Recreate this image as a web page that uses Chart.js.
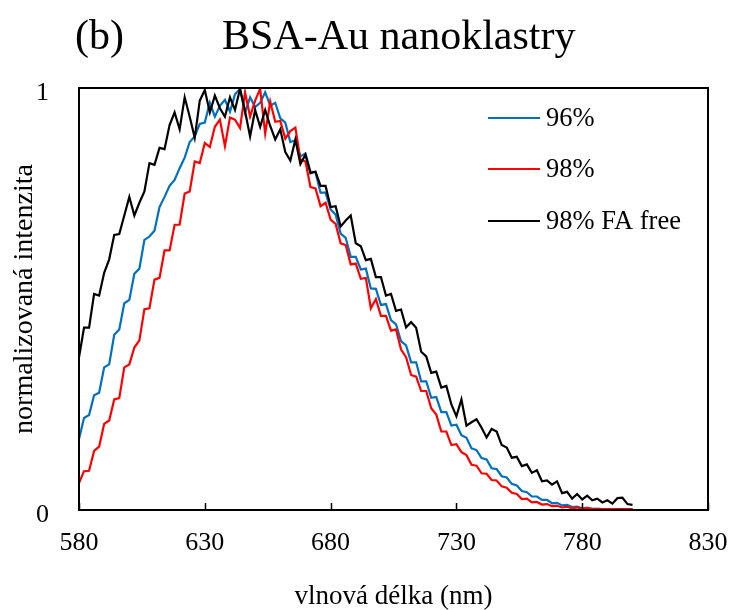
<!DOCTYPE html>
<html>
<head>
<meta charset="utf-8">
<script src="https://cdn.jsdelivr.net/npm/chart.js@4/dist/chart.umd.min.js"></script>
<style>
html,body{margin:0;padding:0;background:#fff;}
canvas{display:block;}
</style>
</head>
<body>
<canvas id="c" width="733" height="610"></canvas>
<script>
const chartTitleLeft = "(b)";
const chartTitleMain = "BSA-Au nanoklastry";
const xAxisTitle = "vlnová délka (nm)";
const yAxisTitle = "normalizovaná intenzita";
const seriesLabels = ["96%", "98%", "98% FA free"];
const seriesColors = ["#0070C0", "#FF0000", "#000000"];
const xTickValues = [580, 630, 680, 730, 780, 830];
const yTickValues = [0, 1];

const wavelengths = [580,582,584,586,588,590,592,594,596,598,600,602,604,606,608,610,612,614,616,618,620,622,624,626,628,630,632,634,636,638,640,642,644,646,648,650,652,654,656,658,660,662,664,666,668,670,672,674,676,678,680,682,684,686,688,690,692,694,696,698,700,702,704,706,708,710,712,714,716,718,720,722,724,726,728,730,732,734,736,738,740,742,744,746,748,750,752,754,756,758,760,762,764,766,768,770,772,774,776,778,780,782,784,786,788,790,792,794,796,798,800];

const s96 = [.168,.218,.225,.272,.278,.338,.345,.415,.428,.49,.498,.56,.572,.64,.648,.662,.718,.742,.768,.782,.81,.835,.872,.885,.915,.918,.965,.932,.958,.972,.944,.985,.998,.942,.978,.955,.965,.99,.958,.965,.928,.918,.872,.876,.838,.845,.802,.8,.752,.752,.712,.7,.655,.645,.6,.6,.57,.572,.525,.524,.486,.488,.45,.44,.4,.39,.35,.35,.305,.305,.266,.268,.232,.232,.2,.202,.177,.171,.146,.142,.123,.12,.099,.097,.08,.077,.062,.058,.045,.042,.032,.032,.024,.024,.016,.017,.011,.012,.007,.008,.004,.005,.003,.003,.002,.002,.002,.002,.002,.002,.002];

const s98 = [.064,.092,.093,.14,.15,.204,.212,.262,.265,.338,.345,.385,.402,.476,.478,.546,.55,.615,.615,.676,.676,.75,.755,.826,.822,.87,.86,.908,.925,.862,.93,.925,.905,.99,.932,.97,.998,.892,.968,.92,.922,.88,.898,.906,.83,.826,.765,.762,.72,.728,.688,.678,.632,.628,.582,.584,.548,.55,.478,.5,.46,.46,.425,.428,.38,.362,.32,.316,.282,.282,.241,.226,.186,.186,.154,.156,.137,.13,.107,.105,.087,.086,.071,.07,.056,.053,.041,.038,.026,.027,.018,.019,.013,.014,.009,.01,.006,.008,.004,.006,.003,.005,.002,.003,.002,.002,.002,.002,.002,.002,.002];

const s98FA = [.362,.432,.432,.512,.508,.562,.594,.652,.654,.698,.742,.698,.728,.755,.822,.818,.858,.855,.912,.942,.902,.978,.932,.882,.97,.995,.942,.982,.952,.932,.978,.948,.998,.945,.885,.948,.908,.948,.91,.878,.902,.848,.828,.878,.82,.842,.798,.802,.768,.768,.718,.72,.672,.686,.698,.632,.625,.592,.595,.552,.552,.508,.512,.472,.475,.433,.445,.432,.375,.364,.325,.328,.29,.294,.25,.222,.262,.2,.208,.215,.195,.172,.192,.186,.154,.148,.124,.126,.104,.108,.088,.094,.068,.07,.06,.068,.04,.043,.027,.038,.025,.034,.023,.027,.018,.023,.015,.028,.029,.014,.012];

const seriesValues = [s96, s98, s98FA];
const FONT = "'Liberation Serif', 'Times New Roman', serif";

const datasets = seriesValues.map((vals, i) => ({
  label: seriesLabels[i],
  data: vals.map((v, k) => ({x: wavelengths[k], y: v})),
  borderColor: seriesColors[i],
  backgroundColor: seriesColors[i],
  borderWidth: 2.2,
  pointRadius: 0,
  tension: 0,
  fill: false,
  order: 3 - i
}));

const decorPlugin = {
  id: 'decor',
  afterDraw(chart) {
    const ctx = chart.ctx;
    const a = chart.chartArea;
    const xs = chart.scales.x;
    ctx.save();
    ctx.fillStyle = '#000';
    ctx.font = "42px " + FONT;
    ctx.textBaseline = 'alphabetic';
    ctx.textAlign = 'left';
    ctx.fillText(chartTitleLeft, 75, 49);
    ctx.fillText(chartTitleMain, 222, 49);
    ctx.strokeStyle = '#000';
    ctx.lineWidth = 2;
    ctx.strokeRect(a.left, a.top, a.right - a.left, a.bottom - a.top);
    ctx.lineWidth = 1.5;
    xTickValues.forEach(v => {
      const px = Math.round(xs.getPixelForValue(v)) + 0.5;
      ctx.beginPath();
      ctx.moveTo(px, a.bottom);
      ctx.lineTo(px, a.bottom - 7);
      ctx.stroke();
    });
    const legendY = [118, 169, 221];
    ctx.font = "26.5px " + FONT;
    ctx.textBaseline = 'middle';
    seriesLabels.forEach((lab, i) => {
      ctx.strokeStyle = seriesColors[i];
      ctx.lineWidth = 2;
      ctx.beginPath();
      ctx.moveTo(488, legendY[i]);
      ctx.lineTo(540, legendY[i]);
      ctx.stroke();
      ctx.fillStyle = '#000';
      ctx.fillText(lab, 546, legendY[i] + 1);
    });
    ctx.restore();
  }
};

new Chart(document.getElementById('c'), {
  type: 'line',
  data: { datasets },
  plugins: [decorPlugin],
  options: {
    responsive: false,
    devicePixelRatio: 1,
    animation: false,
    layout: { padding: { top: 88, right: 25, left: 0, bottom: 0 } },
    plugins: {
      legend: { display: false },
      tooltip: { enabled: false },
      title: { display: false }
    },
    scales: {
      x: {
        type: 'linear',
        min: 580,
        max: 830,
        afterFit(s) { s.height = 100; s.paddingLeft = 0; s.paddingRight = 0; },
        afterBuildTicks(s) { s.ticks = xTickValues.map(v => ({value: v})); },
        grid: { display: false },
        border: { display: false },
        ticks: { color: '#000', font: { family: FONT, size: 26 }, padding: 10, maxRotation: 0 },
        title: { display: true, text: xAxisTitle, color: '#000', font: { family: FONT, size: 27, lineHeight: 1 }, padding: { top: 0, bottom: 0 } }
      },
      y: {
        type: 'linear',
        min: 0,
        max: 1,
        afterFit(s) { s.width = 79; s.paddingTop = 0; s.paddingBottom = 0; },
        afterBuildTicks(s) { s.ticks = yTickValues.map(v => ({value: v})); },
        grid: { display: false },
        border: { display: false },
        ticks: { color: '#000', font: { family: FONT, size: 26 }, padding: 22, labelOffset: 5 },
        title: { display: true, text: yAxisTitle, color: '#000', font: { family: FONT, size: 28, lineHeight: 1 }, padding: { top: 11, bottom: 0 } }
      }
    }
  }
});
</script>
</body>
</html>
